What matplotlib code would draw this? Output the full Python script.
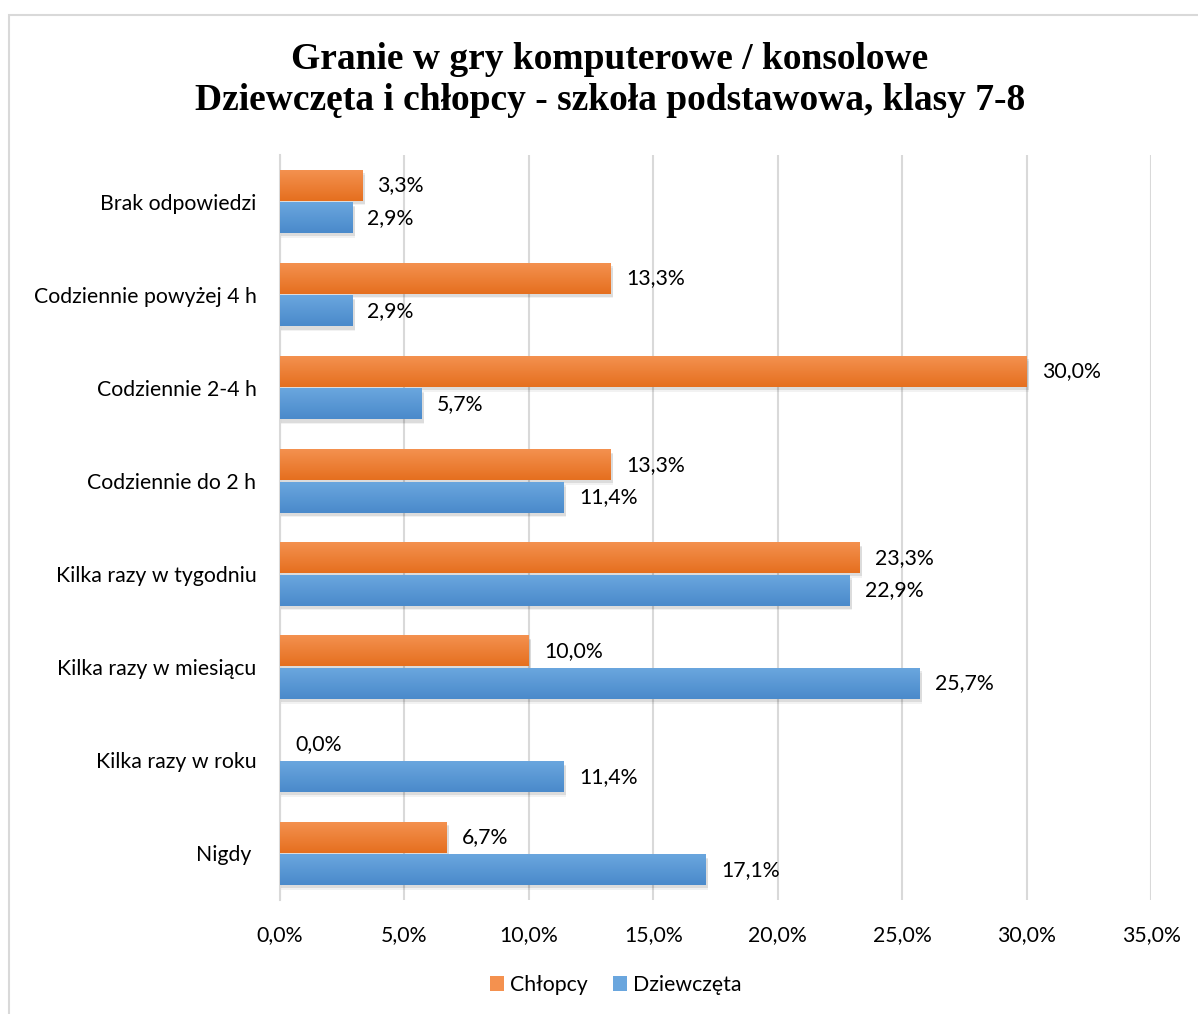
import matplotlib.pyplot as plt
import numpy as np
from matplotlib.colors import LinearSegmentedColormap
from matplotlib.patches import Rectangle

categories = [
    "Brak odpowiedzi",
    "Codziennie powyżej 4 h",
    "Codziennie 2-4 h",
    "Codziennie do 2 h",
    "Kilka razy w tygodniu",
    "Kilka razy w miesiącu",
    "Kilka razy w roku",
    "Nigdy ",
]
chlopcy = [3.3, 13.3, 30.0, 13.3, 23.3, 10.0, 0.0, 6.7]
dziewczeta = [2.9, 2.9, 5.7, 11.4, 22.9, 25.7, 11.4, 17.1]
xticks = [0, 5, 10, 15, 20, 25, 30, 35]

ORANGE = ("#f4914f", "#e56f1f")
BLUE = ("#6aa6de", "#4a8acb")
FS = 15.3

plt.rcParams["font.family"] = ["Lato", "DejaVu Sans"]

fig = plt.figure(figsize=(11.98, 10.14), dpi=100)
fig.patches.append(Rectangle((9 / 1198, -0.01), 1.0, 1 - 15 / 1014 + 0.01,
                             transform=fig.transFigure, fill=False,
                             edgecolor="#d9d9d9", linewidth=1.5))
ax = fig.add_axes([280 / 1198, 1 - 900 / 1014, (1151 - 280) / 1198, (900 - 155) / 1014])

y = np.arange(len(categories))
h = 0.33
off = 0.175


def gradient_bars(ys, vals, colors, label):
    bars = ax.barh(ys, vals, height=h, color=colors[0], label=label, zorder=3)
    grad = np.linspace(0, 1, 50).reshape(-1, 1)
    cmap = LinearSegmentedColormap.from_list("g", [colors[0], colors[1]])
    for b in bars:
        x0, y0 = b.get_x(), b.get_y()
        w, hh = b.get_width(), b.get_height()
        if w <= 0:
            continue
        # soft shadow, slightly below and right
        for k, a in ((0.035, 0.09), (0.05, 0.05)):
            ax.add_patch(Rectangle((x0, y0 + k), w + 0.1, hh,
                                   color="#000000", alpha=a, zorder=2, lw=0))
        ax.imshow(grad, extent=(x0, x0 + w, y0 + hh, y0), aspect="auto",
                  cmap=cmap, zorder=4, interpolation="bicubic")
    return bars


b1 = gradient_bars(y - off, chlopcy, ORANGE, "Chłopcy")
b2 = gradient_bars(y + off, dziewczeta, BLUE, "Dziewczęta")

for ys, vals in ((y - off, chlopcy), (y + off, dziewczeta)):
    for yy, v in zip(ys, vals):
        ax.annotate(f"{v:.1f}%".replace(".", ","), (v, yy), xytext=(11, 0),
                    textcoords="offset points", va="center", ha="left",
                    fontsize=FS, color="#000000", zorder=5)

ax.set_xlim(0, 35)
ax.set_ylim(len(categories) - 0.5, -0.5)
ax.set_xticks(xticks)
ax.set_xticklabels([f"{t:.1f}%".replace(".", ",") for t in xticks], fontsize=FS)
ax.set_yticks(y)
ax.set_yticklabels(categories, fontsize=FS)
ax.tick_params(length=0, pad=18)
ax.tick_params(axis="y", pad=17)
ax.grid(axis="x", color="#d9d9d9", linewidth=1.5, zorder=0)
for s in ("top", "right", "bottom"):
    ax.spines[s].set_visible(False)
ax.spines["left"].set_color("#d9d9d9")
ax.spines["left"].set_linewidth(1.5)

fig.text(0.509, 1 - 80 / 1014,
         "Granie w gry komputerowe / konsolowe\nDziewczęta i chłopcy - szkoła podstawowa, klasy 7-8",
         ha="center", va="center", fontsize=27, fontweight="bold",
         family="Liberation Serif", linespacing=1.25)

leg = fig.legend(handles=[b1, b2], loc="center", bbox_to_anchor=(0.514, 1 - 985 / 1014),
                 ncol=2, frameon=False, fontsize=FS, handlelength=0.65, handleheight=0.65,
                 handletextpad=0.3, columnspacing=1.2)

fig.savefig("out.png", dpi=100)
